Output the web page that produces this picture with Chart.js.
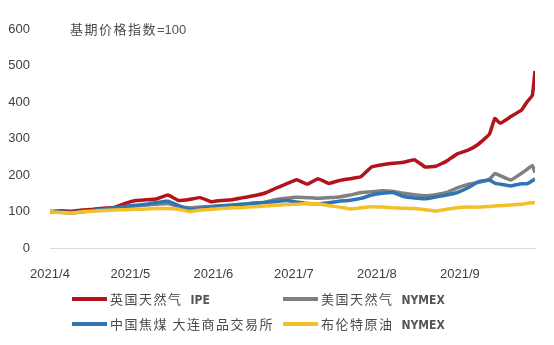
<!DOCTYPE html>
<html>
<head>
<meta charset="utf-8">
<script src="https://cdn.jsdelivr.net/npm/chart.js@4/dist/chart.umd.min.js"></script>
<style>
    body{margin:0;background:#fff;}
    #wrap{position:relative;width:554px;height:345px;}
    #priceChart{display:block;}
    #note,.legItem{position:absolute;font:13px "Noto Sans CJK SC",sans-serif;color:#4a4a4a;letter-spacing:1.5px;white-space:nowrap;line-height:16px;}
    .lat{font:bold 12px "Liberation Sans Narrow","DejaVu Sans Condensed",sans-serif;letter-spacing:0;margin-left:8px;color:#555;}
    .legLine{position:absolute;height:4px;width:35px;}
</style>
</head>
<body>
<div id="wrap">
    <canvas id="priceChart" width="554" height="345"></canvas>
    <div id="note">基期价格指数<span class="lat" style="margin-left:0;font-weight:normal;font-family:'Liberation Sans',sans-serif;font-size:13px">=100</span></div>
    <div id="legend"></div>
</div>
<script>
//days counted from 2021/4/1
var days = [0,4,8,12,16,20,24,28,32,36,40,44,48,52,56,60,64,68,72,76,80,84,88,92,96,100,104,108,112,116,120,124,128,132,136,140,144,148,152,156,160,164,166,168,172,176,178,180,181];
var monthStarts = [0,30,61,91,122,153];
var monthLabels = ['2021/4','2021/5','2021/6','2021/7','2021/8','2021/9'];

//price index series, base = 100
var ukGas = [100,102,101,104,106,109,111,122,130,132,135,145,130,133,138,127,130,132,138,143,150,163,175,187,175,190,177,185,190,195,222,228,232,235,242,222,224,238,258,268,285,312,355,342,360,378,400,418,485];
var usGas = [100,98,96,99,102,105,108,112,115,118,120,122,114,110,112,114,116,118,120,122,125,132,136,139,138,136,138,140,145,152,154,157,155,150,146,143,146,152,165,174,180,188,204,198,186,205,215,226,207];
var cnCoal = [100,98,97,100,103,106,110,114,117,120,125,128,116,105,108,112,115,117,120,123,125,127,130,126,122,121,124,128,131,136,145,150,152,141,137,135,140,145,152,165,182,186,178,175,170,176,176,184,190];
var brent = [100,97,96,99,101,103,104,105,106,107,108,108,106,100,104,106,108,110,111,113,115,117,119,120,122,121,116,112,107,110,113,112,110,109,108,105,101,106,110,112,112,114,115,116,118,120,122,124,125];

var seriesNames = ['英国天然气|IPE','美国天然气|NYMEX','中国焦煤 大连商品交易所','布伦特原油|NYMEX'];
var seriesColors = ['#b3141c','#808080','#2f74b5','#f4c027'];
var seriesData = [ukGas,usGas,cnCoal,brent];

//legend, two per row
var legPos = [[72,299],[283,299],[72,324],[283,324]];
var legHtml = '';
seriesNames.forEach((n,i)=>{
    var parts = n.split('|');
    var txt = parts[0] + (parts[1] ? '<span class="lat">'+parts[1]+'</span>' : '');
    legHtml += `<div class="legLine" style="left:${legPos[i][0]}px;top:${legPos[i][1]-2}px;background:${seriesColors[i]}"></div>`;
    legHtml += `<div class="legItem" style="left:${legPos[i][0]+38}px;top:${legPos[i][1]-8}px">${txt}</div>`;
});
document.getElementById('legend').innerHTML = legHtml;
var note = document.getElementById('note');
note.style.left = '70px';note.style.top = '21px';

var datasets = seriesData.map((d,i)=>({
    label: seriesNames[i].replace('|',' '),
    data: d.map((v,j)=>({x:days[j],y:v})),
    borderColor: seriesColors[i],
    borderWidth: 3.5,
    pointRadius: 0,
    tension: 0.1,
    order: 4-i
}));

var ctx = document.getElementById('priceChart').getContext('2d');
var chart = new Chart(ctx,{
    type: 'line',
    data: {datasets: datasets},
    options: {
        responsive: false,
        animation: false,
        layout: {padding:{top:29,right:19,bottom:67,left:0}},
        plugins: {legend:{display:false},tooltip:{enabled:false}},
        scales: {
            x: {
                type: 'linear',
                min: 0,
                max: 181,
                afterBuildTicks: (axis)=>{
                    axis.ticks = monthStarts.map(v=>({value:v}));
                },
                afterFit: (scale)=>{ scale.height = 30; },
                grid: {display:false},
                border: {color:'#d9d9d9',width:1},
                ticks: {
                    autoSkip: false,
                    maxRotation: 0,
                    padding: 11,
                    color: '#404040',
                    font: {family:'Liberation Sans, Arial, sans-serif',size:13},
                    callback: (v)=>monthLabels[monthStarts.indexOf(v)]
                }
            },
            y: {
                min: 0,
                max: 600,
                afterFit: (scale)=>{ scale.width = 50; },
                grid: {display:false},
                border: {display:false},
                ticks: {
                    stepSize: 100,
                    padding: 12,
                    color: '#404040',
                    font: {family:'Liberation Sans, Arial, sans-serif',size:13}
                }
            }
        }
    }
});
</script>
</body>
</html>
